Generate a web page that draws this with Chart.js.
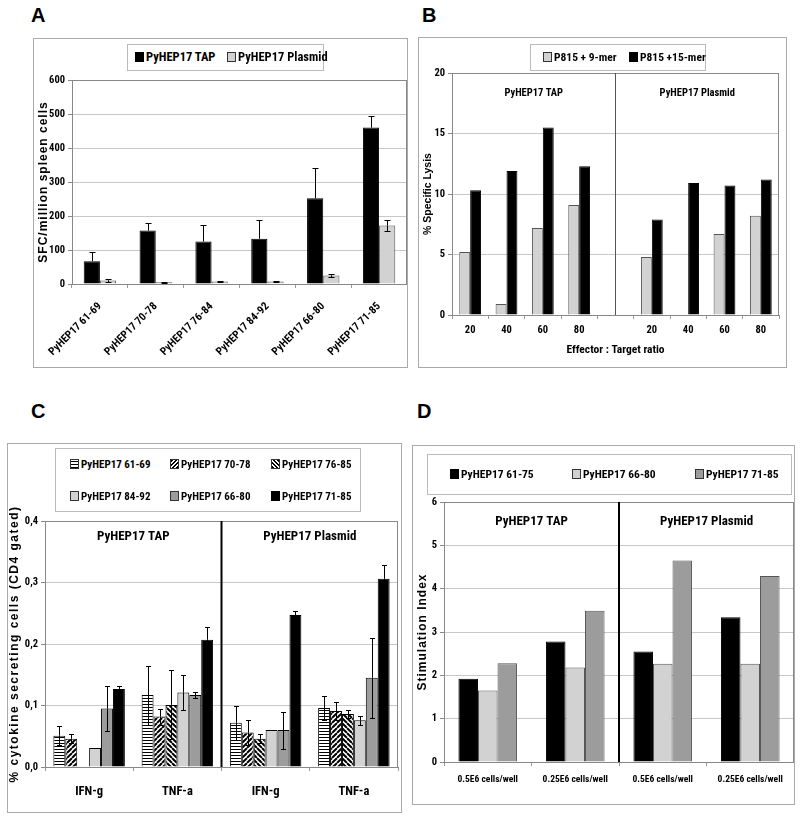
<!DOCTYPE html>
<html>
<head>
<meta charset="utf-8">
<script src="https://cdn.jsdelivr.net/npm/chart.js@4.4.6/dist/chart.umd.min.js"></script>
<style>
  body{margin:0;background:#fff;width:800px;height:816px;position:relative;overflow:hidden;
       font-family:'Roboto Condensed','Liberation Sans Narrow',sans-serif;color:#000;}
  .frame{position:absolute;border:1px solid #aaa;box-sizing:border-box;}
  canvas.c{position:absolute;}
  .tag{position:absolute;font:bold 20px 'Liberation Sans',Arial,sans-serif;}
  .leg{position:absolute;border:1px solid #bbb;box-sizing:border-box;background:#fff;}
  .item{position:absolute;font-weight:bold;white-space:nowrap;line-height:16px;}
  .sw{display:inline-block;width:7px;height:8px;border:1px solid #333;margin-right:2px;vertical-align:-1px;}
</style>
</head>
<body>
<div class="tag" style="left:31px;top:4px">A</div>
<div class="tag" style="left:422px;top:4px">B</div>
<div class="tag" style="left:31px;top:400px">C</div>
<div class="tag" style="left:417px;top:400px">D</div>

<div class="frame" style="left:33px;top:38px;width:375px;height:330px"></div>
<div class="frame" style="left:418px;top:37px;width:369px;height:331px"></div>
<div class="frame" style="left:7px;top:443px;width:395px;height:370px"></div>
<div class="frame" style="left:412px;top:445px;width:383px;height:360px"></div>

<canvas class="c" id="chartA" style="left:33px;top:38px" width="374" height="329"></canvas>
<canvas class="c" id="chartB" style="left:418px;top:37px" width="369" height="330"></canvas>
<canvas class="c" id="chartC" style="left:7px;top:443px" width="394" height="369"></canvas>
<canvas class="c" id="chartD" style="left:412px;top:445px" width="382" height="359"></canvas>

<div class="leg" style="left:127px;top:44px;width:197px;height:27px"></div>
<div class="leg" style="left:530px;top:44px;width:176px;height:27px"></div>
<div class="leg" style="left:55px;top:448px;width:306px;height:64px"></div>
<div class="leg" style="left:427px;top:454px;width:365px;height:41px"></div>
<div id="legends"></div>

<script>
// ---- data ----
const aCategories = ['PyHEP17 61-69', 'PyHEP17 70-78', 'PyHEP17 76-84', 'PyHEP17 84-92', 'PyHEP17 66-80', 'PyHEP17 71-85'];
const aSeries = ['PyHEP17 TAP', 'PyHEP17 Plasmid'];
const aTap = [67, 157, 125, 133, 252, 460];
const aTapErr = [28, 21, 48, 54, 88, 34];
const aPlasmid = [10, 5, 7, 7, 25, 172];
const aPlasmidErr = [4, 2, 2, 2, 3, 15];

const bCategories = ['20', '40', '60', '80', '', '20', '40', '60', '80'];
const bSeries = ['P815 + 9-mer', 'P815 +15-mer'];
const b9mer = [5.2, 0.9, 7.2, 9.1, null, 4.8, null, 6.7, 8.2];
const b15mer = [10.3, 11.9, 15.5, 12.3, null, 7.9, 10.9, 10.7, 11.2];
const bGroups = ['PyHEP17 TAP', 'PyHEP17 Plasmid'];

const cCategories = ['IFN-g', 'TNF-a', 'IFN-g', 'TNF-a'];
const cSeries = ['PyHEP17 61-69', 'PyHEP17 70-78', 'PyHEP17 76-85', 'PyHEP17 84-92', 'PyHEP17 66-80', 'PyHEP17 71-85'];
const c6169 = [0.051, 0.117, 0.072, 0.096];
const c7078 = [0.046, 0.082, 0.056, 0.091];
const c7685 = [null, 0.101, 0.046, 0.086];
const c8492 = [0.031, 0.121, 0.060, 0.076];
const c6680 = [0.095, 0.117, 0.060, 0.145];
const c7185 = [0.127, 0.207, 0.247, 0.306];
const c6169Err = [0.015, 0.048, 0.028, 0.020];
const c7078Err = [0.007, 0.013, 0.021, 0.014];
const c7685Err = [0, 0.056, 0.007, 0.007];
const c8492Err = [0, 0.028, 0, 0.007];
const c6680Err = [0.036, 0.005, 0.030, 0.065];
const c7185Err = [0.005, 0.021, 0.006, 0.022];
const cGroups = ['PyHEP17 TAP', 'PyHEP17 Plasmid'];

const dCategories = ['0.5E6 cells/well', '0.25E6 cells/well', '0.5E6 cells/well', '0.25E6 cells/well'];
const dSeries = ['PyHEP17 61-75', 'PyHEP17 66-80', 'PyHEP17 71-85'];
const d6175 = [1.92, 2.78, 2.55, 3.34];
const d6680 = [1.65, 2.18, 2.27, 2.27];
const d7185 = [2.28, 3.49, 4.65, 4.29];
const dGroups = ['PyHEP17 TAP', 'PyHEP17 Plasmid'];

// ---- style ----
const NARROW = "'Roboto Condensed','Liberation Sans Narrow',sans-serif";
const SANS = "'Liberation Sans',Arial,sans-serif";
const LIGHT = '#d2d2d2', MID = '#9c9c9c', BLACK = '#000';
Chart.defaults.color = '#000';
Chart.defaults.animation = false;

function hatch(kind){
  const s = kind === 'h' ? 3 : 5;
  const cv = document.createElement('canvas'); cv.width = s; cv.height = s;
  const g = cv.getContext('2d');
  g.fillStyle = '#fff'; g.fillRect(0, 0, s, s);
  g.fillStyle = '#000'; g.strokeStyle = '#000';
  if(kind === 'h'){ g.fillRect(0, 0, s, 1); }
  else {
    g.lineWidth = 2; g.beginPath();
    for(let k=-1;k<=1;k++){
      if(kind === '/'){ g.moveTo(k*s, s); g.lineTo(k*s+s, 0); }
      else { g.moveTo(k*s, 0); g.lineTo(k*s+s, s); }
    }
    g.stroke();
  }
  return g.createPattern(cv, 'repeat');
}

// box, separator, group titles, y title, error bars
const deco = {
  id: 'deco',
  afterDatasetsDraw(chart, args, o){
    const ctx = chart.ctx, y = chart.scales.y;
    ctx.save();
    ctx.strokeStyle = '#000'; ctx.lineWidth = 1;
    (o.errors || []).forEach(e => {
      const meta = chart.getDatasetMeta(e.ds);
      const vals = chart.data.datasets[e.ds].data;
      meta.data.forEach((bar, i) => {
        const v = vals[i]; if(v == null) return;
        const xx = Math.round(bar.x) + 0.5;
        [[e.up ? e.up[i] : 0, 1], [e.lo ? e.lo[i] : 0, -1]].forEach(([d, s]) => {
          if(!d) return;
          const yy = Math.round(y.getPixelForValue(v + s*d)) + 0.5;
          ctx.beginPath();
          ctx.moveTo(xx, bar.y); ctx.lineTo(xx, yy);
          ctx.moveTo(xx - o.cap, yy); ctx.lineTo(xx + o.cap, yy);
          ctx.stroke();
        });
      });
    });
    ctx.restore();
  },
  afterDraw(chart, args, o){
    const ctx = chart.ctx, a = chart.chartArea, x = chart.scales.x;
    ctx.save();
    ctx.strokeStyle = '#888'; ctx.lineWidth = 1;
    ctx.strokeRect(Math.round(a.left)+0.5, Math.round(a.top)+0.5, Math.round(a.right-a.left)-1, Math.round(a.bottom-a.top));
    if(o.sep != null){
      const i = Math.floor(o.sep), f = o.sep - i;
      const p0 = x.getPixelForValue(i), p1 = x.getPixelForValue(i+1);
      const sx = p0 + (p1 - p0) * f;
      ctx.strokeStyle = o.sepColor; ctx.lineWidth = o.sepWidth;
      ctx.beginPath(); ctx.moveTo(sx, a.top); ctx.lineTo(sx, a.bottom); ctx.stroke();
      if(o.titles){
        ctx.fillStyle = '#000'; ctx.font = o.titleFont;
        ctx.textAlign = 'center'; ctx.textBaseline = 'middle';
        ctx.fillText(o.titles[0], (a.left + sx) / 2, a.top + o.titleDy);
        ctx.fillText(o.titles[1], (sx + a.right) / 2, a.top + o.titleDy);
      }
    }
    if(o.yTitle){
      const t = o.yTitle;
      ctx.translate(t.x, (a.top + a.bottom) / 2);
      ctx.rotate(-Math.PI / 2);
      ctx.font = t.font; ctx.fillStyle = '#000';
      ctx.letterSpacing = t.spacing + 'px';
      ctx.textAlign = 'center'; ctx.textBaseline = 'middle';
      ctx.fillText(t.text, 0, 0);
    }
    ctx.restore();
  }
};

function xAxis(h, size, pad, extra){
  return Object.assign({
    grid: {offset: true, drawOnChartArea: false, tickLength: 4, color: '#999'},
    border: {color: '#888'},
    ticks: {font: {family: NARROW, weight: 'bold', size: size}, padding: pad, autoSkip: false, maxRotation: 0},
    afterFit: s => { s.height = h; }
  }, extra || {});
}
function yAxis(w, max, step, fmt){
  return {
    min: 0, max: max,
    grid: {color: '#c8c8c8', tickColor: '#888', tickLength: 4},
    border: {color: '#888'},
    ticks: {stepSize: step, padding: 3, font: {family: NARROW, weight: 'bold', size: 10.5}, callback: fmt || (v => v)},
    afterFit: s => { s.width = w; }
  };
}

// ---- A ----
new Chart(document.getElementById('chartA'), {
  type: 'bar',
  data: {labels: aCategories, datasets: [
    {label: aSeries[0], data: aTap, backgroundColor: BLACK, borderColor: BLACK, borderWidth: 1},
    {label: aSeries[1], data: aPlasmid, backgroundColor: LIGHT, borderColor: '#555', borderWidth: 1}
  ]},
  options: {
    responsive: false, devicePixelRatio: 1,
    layout: {padding: {left: 0, top: 42, right: 0, bottom: 0}},
    datasets: {bar: {categoryPercentage: 0.58, barPercentage: 1}},
    plugins: {legend: {display: false}, tooltip: {enabled: false},
      deco: {cap: 3, errors: [{ds: 0, up: aTapErr}, {ds: 1, up: aPlasmidErr, lo: aPlasmidErr}],
             yTitle: {text: 'SFC/million spleen cells', x: 11, font: 'bold 12px ' + SANS, spacing: 1}}},
    scales: {
      x: xAxis(83, 11, 12, {ticks: {font: {family: NARROW, weight: 'bold', size: 11}, padding: 12,
            autoSkip: false, maxRotation: 45, minRotation: 45}}),
      y: yAxis(39, 600, 100)
    }
  },
  plugins: [deco]
});

// ---- B ----
new Chart(document.getElementById('chartB'), {
  type: 'bar',
  data: {labels: bCategories, datasets: [
    {label: bSeries[0], data: b9mer, backgroundColor: LIGHT, borderColor: '#555', borderWidth: 1},
    {label: bSeries[1], data: b15mer, backgroundColor: BLACK, borderColor: BLACK, borderWidth: 1}
  ]},
  options: {
    responsive: false, devicePixelRatio: 1,
    layout: {padding: {left: 0, top: 36, right: 8, bottom: 0}},
    datasets: {bar: {categoryPercentage: 0.6, barPercentage: 1}},
    plugins: {legend: {display: false}, tooltip: {enabled: false},
      deco: {sep: 4, sepColor: '#555', sepWidth: 1, titles: bGroups, titleFont: 'bold 10.5px ' + NARROW, titleDy: 20,
             yTitle: {text: '% Specific Lysis', x: 10, font: 'bold 10.5px ' + SANS, spacing: 0}}},
    scales: {
      x: xAxis(52, 10.5, 5, {title: {display: true, text: 'Effector : Target ratio',
            font: {family: NARROW, weight: 'bold', size: 11.5}, padding: {top: 0, bottom: 10}}}),
      y: yAxis(34, 20, 5)
    }
  },
  plugins: [deco]
});

// ---- C ----
const cFills = [hatch('h'), hatch('/'), hatch('\\'), LIGHT, MID, BLACK];
const cData = [c6169, c7078, c7685, c8492, c6680, c7185];
const cErr = [c6169Err, c7078Err, c7685Err, c8492Err, c6680Err, c7185Err];
new Chart(document.getElementById('chartC'), {
  type: 'bar',
  data: {labels: cCategories, datasets: cSeries.map((s, i) => ({
    label: s, data: cData[i], backgroundColor: cFills[i], borderColor: '#000', borderWidth: 1
  }))},
  options: {
    responsive: false, devicePixelRatio: 1,
    layout: {padding: {left: 0, top: 78, right: 3, bottom: 0}},
    datasets: {bar: {categoryPercentage: 0.81, barPercentage: 1}},
    plugins: {legend: {display: false}, tooltip: {enabled: false},
      deco: {sep: 1.5, sepColor: '#000', sepWidth: 2, titles: cGroups, titleFont: 'bold 13px ' + NARROW, titleDy: 16,
             cap: 2.5, errors: cErr.map((e, i) => ({ds: i, up: e, lo: e})),
             yTitle: {text: '% cytokine secreting cells (CD4 gated)', x: 8, font: 'bold 12px ' + SANS, spacing: 1.5}}},
    scales: {
      x: xAxis(45, 12.5, 13, {}),
      y: yAxis(38, 0.4, 0.1, v => v.toFixed(1).replace('.', ','))
    }
  },
  plugins: [deco]
});

// ---- D ----
const dData = [d6175, d6680, d7185];
const dFills = [BLACK, LIGHT, MID];
new Chart(document.getElementById('chartD'), {
  type: 'bar',
  data: {labels: dCategories, datasets: dSeries.map((s, i) => ({
    label: s, data: dData[i], backgroundColor: dFills[i], borderColor: i ? '#555' : '#000', borderWidth: 1
  }))},
  options: {
    responsive: false, devicePixelRatio: 1,
    layout: {padding: {left: 0, top: 57, right: 0, bottom: 0}},
    datasets: {bar: {categoryPercentage: 0.67, barPercentage: 1}},
    plugins: {legend: {display: false}, tooltip: {enabled: false},
      deco: {sep: 1.5, sepColor: '#000', sepWidth: 2, titles: dGroups, titleFont: 'bold 13px ' + NARROW, titleDy: 20,
             yTitle: {text: 'Stimulation Index', x: 11, font: 'bold 12px ' + SANS, spacing: 1}}},
    scales: {
      x: xAxis(42, 9.5, 8, {}),
      y: yAxis(32, 6, 1)
    }
  },
  plugins: [deco]
});

// ---- HTML legends ----
const swatch = {
  black: 'background:#000;border-color:#000',
  light: 'background:' + LIGHT,
  mid: 'background:' + MID,
  h: 'background:repeating-linear-gradient(0deg,#000 0 1px,#fff 1px 3px)',
  fwd: 'background:repeating-linear-gradient(135deg,#000 0 1.5px,#fff 1.5px 3px)',
  back: 'background:repeating-linear-gradient(45deg,#000 0 1.5px,#fff 1.5px 3px)'
};
const legendItems = [
  [aSeries[0], 'black', 135, 57, 12.5], [aSeries[1], 'light', 227, 57, 12.5],
  [bSeries[0], 'light', 543, 57, 11.5], [bSeries[1], 'black', 629, 57, 11.5],
  [cSeries[0], 'h', 70, 465, 11], [cSeries[1], 'fwd', 170, 465, 11], [cSeries[2], 'back', 271, 465, 11],
  [cSeries[3], 'light', 70, 497, 11], [cSeries[4], 'mid', 170, 497, 11], [cSeries[5], 'black', 271, 497, 11],
  [dSeries[0], 'black', 450, 474, 11.5], [dSeries[1], 'light', 572, 474, 11.5], [dSeries[2], 'mid', 695, 474, 11.5]
];
const host = document.getElementById('legends');
legendItems.forEach(([t, sw, x, y, fs]) => {
  const d = document.createElement('div');
  d.className = 'item';
  d.style.left = x + 'px'; d.style.top = (y - 8) + 'px'; d.style.fontSize = fs + 'px';
  d.innerHTML = '<span class="sw" style="' + swatch[sw] + '"></span>' + t;
  host.appendChild(d);
});
</script>
</body>
</html>
